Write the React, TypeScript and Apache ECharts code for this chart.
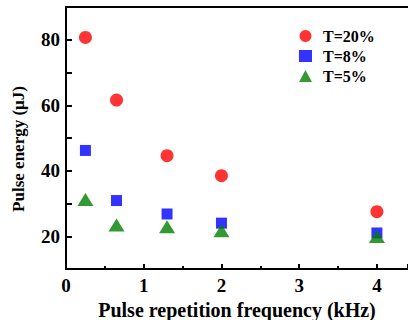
import React, { useEffect, useRef } from "react";
import * as echarts from "echarts";

// Pulse repetition frequency (kHz) for each measurement
const frequency = [0.25, 0.65, 1.3, 2, 4];
// Pulse energy (μJ) per output-coupler transmission
const energyT20 = [80.7, 61.6, 44.6, 38.5, 27.5];
const energyT8 = [46.2, 30.9, 26.8, 24.0, 21.0];
const energyT5 = [31.2, 23.4, 22.9, 21.7, 19.9];
const seriesNames = ["T=20%", "T=8%", "T=5%"];
const yLabelValues = [20, 40, 60, 80];

const FONT = "'Liberation Serif', 'Times New Roman', serif";
const X_MAX = 4.4;

export default function App() {
  const ref = useRef<HTMLDivElement>(null);

  useEffect(() => {
    document.body.style.margin = "0";
    document.documentElement.style.overflow = "hidden";
    const chart = echarts.init(ref.current!, null, { renderer: "svg" });
    const pair = (ys: number[]) => frequency.map((x, i) => [x, ys[i]]);

    chart.setOption({
      animation: false,
      backgroundColor: "#ffffff",
      textStyle: { fontFamily: FONT },
      // plot box is fixed; the axis title sits close to the bottom edge
      grid: { left: 66, top: 7, right: 0, bottom: 51, outerBoundsMode: "none", containLabel: false },
      legend: {
        orient: "vertical",
        left: 294,
        top: 23,
        itemWidth: 13,
        itemHeight: 12,
        itemGap: 4,
        selectedMode: false,
        textStyle: {
          fontFamily: FONT,
          fontWeight: "bold",
          fontSize: 16,
          lineHeight: 16,
          color: "#000",
          padding: [0, 0, 0, 6],
        },
        data: [
          { name: seriesNames[0], icon: "circle" },
          { name: seriesNames[1], icon: "rect" },
          { name: seriesNames[2], icon: "triangle" },
        ],
      },
      graphic: [
        {
          type: "text",
          x: 18,
          y: 149,
          rotation: Math.PI / 2,
          style: {
            text: "Pulse energy (μJ)",
            fontFamily: FONT,
            fontWeight: "bold",
            fontSize: 17,
            fill: "#000",
            align: "center",
            verticalAlign: "middle",
          },
        },
      ],
      xAxis: [
        {
          type: "value",
          min: 0,
          max: X_MAX,
          interval: 1,
          name: "Pulse repetition frequency (kHz)",
          nameLocation: "middle",
          nameGap: 30,
          nameTextStyle: {
            fontFamily: FONT,
            fontWeight: "bold",
            fontSize: 20,
            lineHeight: 20,
            color: "#000",
          },
          axisLine: { lineStyle: { color: "#000", width: 2 } },
          axisTick: { inside: true, length: 5, lineStyle: { color: "#000", width: 2 } },
          minorTick: { show: true, splitNumber: 2, length: 3, lineStyle: { color: "#000", width: 2 } },
          splitLine: { show: false },
          axisLabel: {
            margin: 7,
            fontFamily: FONT,
            fontWeight: "bold",
            fontSize: 19,
            color: "#000",
            showMaxLabel: false,
            formatter: (v: number) => (Number.isInteger(v) ? String(v) : ""),
          },
        },
        {
          // top frame line
          type: "value",
          position: "top",
          min: 0,
          max: X_MAX,
          axisLine: { lineStyle: { color: "#000", width: 2 } },
          axisTick: { show: false },
          axisLabel: { show: false },
          splitLine: { show: false },
        },
      ],
      yAxis: {
        type: "value",
        min: 10,
        max: 90,
        interval: 10,
        axisLine: { lineStyle: { color: "#000", width: 2 } },
        axisTick: { inside: true, length: 6, lineStyle: { color: "#000", width: 2 } },
        splitLine: { show: false },
        axisLabel: {
          margin: 6,
          fontFamily: FONT,
          fontWeight: "bold",
          fontSize: 19,
          color: "#000",
          formatter: (v: number) => (yLabelValues.includes(v) ? String(v) : ""),
        },
      },
      series: [
        {
          name: seriesNames[0],
          type: "scatter",
          symbol: "circle",
          symbolSize: 13,
          itemStyle: { color: "#ff0000" },
          data: pair(energyT20),
        },
        {
          name: seriesNames[1],
          type: "scatter",
          symbol: "rect",
          symbolSize: 11,
          itemStyle: { color: "#0000ff" },
          data: pair(energyT8),
        },
        {
          name: seriesNames[2],
          type: "scatter",
          symbol: "triangle",
          symbolSize: [16, 13],
          itemStyle: { color: "#008000" },
          data: pair(energyT5),
        },
      ],
    });

    return () => chart.dispose();
  }, []);

  return (
    <div
      ref={ref}
      style={{ position: "fixed", left: 0, top: 0, width: 408, height: 320 }}
    />
  );
}
